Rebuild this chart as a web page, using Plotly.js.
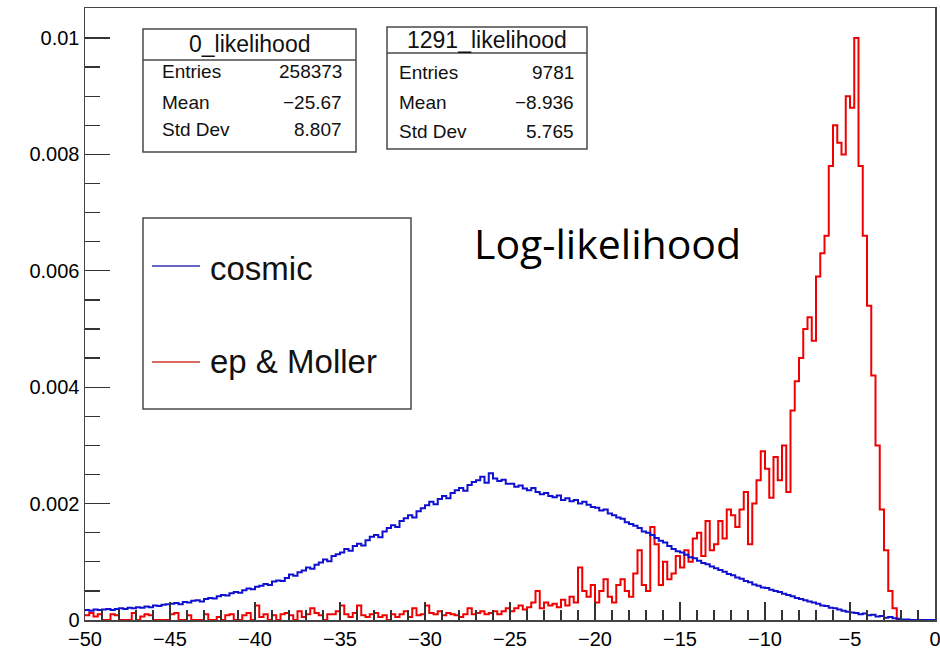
<!DOCTYPE html>
<html>
<head>
<meta charset="utf-8">
<script src="https://cdn.plot.ly/plotly-3.0.1.min.js"></script>
<style>html,body{margin:0;padding:0;background:#fff;}#chart{width:940px;height:649px;}</style>
</head>
<body>
<div id="chart"></div>
<script>
// ---- Data (histograms, bin width 0.25 from -50 to 0) ----
const binStart = -50;
const binWidth = 0.25;

const cosmicName = "cosmic";
const cosmicValues = [
0.00017,0.00016,0.00018,0.00017,0.00018,0.00019,0.00017,0.00019,0.00020,0.00019,0.00021,0.00020,0.00022,0.00021,0.00023,0.00022,0.00025,0.00024,0.00026,0.00027,
0.00028,0.00029,0.00027,0.00031,0.00030,0.00033,0.00034,0.00032,0.00036,0.00038,0.00037,0.00041,0.00043,0.00042,0.00046,0.00048,0.00047,0.00051,0.00054,0.00053,
0.00057,0.00059,0.00062,0.00060,0.00066,0.00068,0.00067,0.00072,0.00078,0.00076,0.00082,0.00085,0.00090,0.00088,0.00095,0.00099,0.00104,0.00101,0.00110,0.00113,
0.00116,0.00122,0.00119,0.00127,0.00131,0.00128,0.00137,0.00143,0.00146,0.00142,0.00152,0.00158,0.00163,0.00160,0.00170,0.00175,0.00180,0.00176,0.00187,0.00192,
0.00197,0.00203,0.00199,0.00208,0.00213,0.00209,0.00218,0.00223,0.00227,0.00222,0.00232,0.00237,0.00240,0.00246,0.00236,0.00252,0.00243,0.00239,0.00241,0.00234,
0.00234,0.00229,0.00231,0.00226,0.00223,0.00227,0.00220,0.00216,0.00218,0.00213,0.00211,0.00214,0.00206,0.00209,0.00204,0.00206,0.00200,0.00203,0.00198,0.00194,
0.00193,0.00188,0.00190,0.00183,0.00180,0.00176,0.00174,0.00168,0.00165,0.00162,0.00158,0.00152,0.00150,0.00146,0.00141,0.00136,0.00133,0.00127,0.00122,0.00118,
0.00116,0.00112,0.00108,0.00106,0.00102,0.00098,0.00096,0.00092,0.00089,0.00086,0.00083,0.00079,0.00077,0.00073,0.00071,0.00067,0.00065,0.00061,0.00059,0.00056,
0.00055,0.00052,0.00050,0.00048,0.00045,0.00043,0.00041,0.00038,0.00036,0.00034,0.00032,0.00030,0.00028,0.00025,0.00024,0.00021,0.00020,0.00018,0.00016,0.00014,
0.00013,0.00012,0.00010,0.00011,0.00008,0.00009,0.00006,0.00007,0.00004,0.00005,0.00003,0.00002,0.00001,0.00001,0,0,0,0,0,0
];

const mollerName = "ep & Moller";
const mollerValues = [
0.00008,0.00012,0.00006,0.00010,0,0,0.00010,0.00008,0,0,0,0.00012,0,0.00006,0.00010,0.00008,0,0,0,0,
0.00010,0.00012,0,0,0.00008,0,0,0,0.00010,0,0,0.00005,0,0.00008,0.00010,0,0,0.00008,0.00012,0,
0.00025,0.00005,0.00010,0,0.00008,0,0.00010,0.00012,0.00008,0,0.00015,0.00005,0.00010,0.00020,0.00012,0.00008,0,0.00010,0.00010,0.00015,
0.00025,0.00010,0.00005,0.00012,0.00025,0.00008,0.00005,0.00010,0.00012,0.00005,0.00008,0,0.00010,0.00005,0.00010,0.00015,0.00005,0.00020,0.00008,0.00010,
0.00025,0.00012,0.00010,0.00015,0.00008,0.00012,0.00010,0.00008,0.00005,0.00010,0.00020,0.00010,0.00012,0.00015,0.00010,0.00012,0.00015,0.00010,0.00015,0.00020,
0.00015,0.00020,0.00025,0.00018,0.00022,0.00030,0.00050,0.00020,0.00030,0.00025,0.00028,0.00022,0.00035,0.00025,0.00040,0.00030,0.00090,0.00050,0.00040,0.00060,
0.00030,0.00050,0.00070,0.00040,0.00030,0.00060,0.00070,0.00050,0.00040,0.00080,0.00120,0.00060,0.00050,0.00160,0.00130,0.00060,0.00100,0.00070,0.00080,0.00110,
0.00090,0.00120,0.00100,0.00140,0.00150,0.00110,0.00170,0.00120,0.00130,0.00170,0.00140,0.00190,0.00180,0.00160,0.00190,0.00220,0.00130,0.00200,0.00240,0.00290,
0.00260,0.00210,0.00280,0.00240,0.00300,0.00220,0.00360,0.00410,0.00450,0.00500,0.00520,0.00480,0.00590,0.00630,0.00660,0.00780,0.00850,0.00820,0.00800,0.00900,
0.00880,0.01000,0.00780,0.00660,0.00540,0.00420,0.00300,0.00190,0.00120,0.00050,0.00020,0,0,0,0,0,0,0,0,0
];

const xTickVals = [-50,-45,-40,-35,-30,-25,-20,-15,-10,-5,0];
const yTickVals = [0,0.002,0.004,0.006,0.008,0.01];
const yTickText = ["0","0.002","0.004","0.006","0.008","0.01"];

const stats1 = {title:"0_likelihood", labels:["Entries","Mean","Std Dev"], values:["258373","\u221225.67","8.807"]};
const stats2 = {title:"1291_likelihood", labels:["Entries","Mean","Std Dev"], values:["9781","\u22128.936","5.765"]};
const overlayText = "Log-likelihood";

// ---- Build step-histogram outlines from bin contents ----
function stepXY(values){
  const xs = [], ys = [];
  for (let i = 0; i < values.length; i++){ xs.push(binStart + i*binWidth); ys.push(values[i]); }
  xs.push(binStart + values.length*binWidth); ys.push(values[values.length-1]);
  return {xs, ys};
}
const blue = stepXY(cosmicValues);
const red = stepXY(mollerValues);

// ---- Geometry helpers (pixel -> paper) ----
const L = 85, R = 935, T = 8, B = 620;
const px = p => (p - L)/(R - L);
const py = p => (B - p)/(B - T);

const FONT = "Liberation Sans, Arial, Helvetica, sans-serif";
const shapes = [], annotations = [];

function statsBox(s, x0, y0, x1, y1, sepY, rows, padL, padR, titleY){
  shapes.push({type:"rect", xref:"paper", yref:"paper", x0:px(x0), x1:px(x1), y0:py(y1), y1:py(y0),
    line:{color:"#4a4a4a", width:1.5}, fillcolor:"#ffffff", layer:"above"});
  shapes.push({type:"line", xref:"paper", yref:"paper", x0:px(x0), x1:px(x1), y0:py(sepY), y1:py(sepY),
    line:{color:"#4a4a4a", width:1.5}, layer:"above"});
  annotations.push({xref:"paper", yref:"paper", x:px((x0+x1)/2), y:py(titleY), text:s.title, showarrow:false,
    xanchor:"center", yanchor:"middle", font:{family:FONT, size:23, color:"#111"}});
  for (let i = 0; i < s.labels.length; i++){
    annotations.push({xref:"paper", yref:"paper", x:px(x0+padL), y:py(rows[i]), text:s.labels[i], showarrow:false,
      xanchor:"left", yanchor:"middle", font:{family:FONT, size:19, color:"#111"}});
    annotations.push({xref:"paper", yref:"paper", x:px(x1-padR), y:py(rows[i]), text:s.values[i], showarrow:false,
      xanchor:"right", yanchor:"middle", font:{family:FONT, size:19, color:"#111"}});
  }
}
statsBox(stats1, 143, 29, 356, 152, 60, [72,102,130], 17, 12, 44);
statsBox(stats2, 387, 27, 587, 149, 53, [73,102,132], 10, 11, 40);

// legend (manual, ROOT TLegend style)
shapes.push({type:"rect", xref:"paper", yref:"paper", x0:px(143), x1:px(411), y0:py(409), y1:py(218),
  line:{color:"#4a4a4a", width:1.5}, fillcolor:"#ffffff", layer:"above"});
shapes.push({type:"line", xref:"paper", yref:"paper", x0:px(152), x1:px(200), y0:py(266), y1:py(266),
  line:{color:"#3030b0", width:1.5}, layer:"above"});
shapes.push({type:"line", xref:"paper", yref:"paper", x0:px(152), x1:px(200), y0:py(362), y1:py(362),
  line:{color:"#d03a2a", width:1.5}, layer:"above"});
annotations.push({xref:"paper", yref:"paper", x:px(208), y:py(268), text:cosmicName, showarrow:false,
  xanchor:"left", yanchor:"middle", font:{family:FONT, size:33, color:"#111"}});
annotations.push({xref:"paper", yref:"paper", x:px(208), y:py(362), text:mollerName.replace("&","&amp;"), showarrow:false,
  xanchor:"left", yanchor:"middle", font:{family:FONT, size:33, color:"#111"}});

annotations.push({xref:"paper", yref:"paper", x:px(472), y:py(243), text:overlayText, showarrow:false,
  xanchor:"left", yanchor:"middle", font:{family:"Open Sans, sans-serif", size:41, color:"#000"}});

const traces = [
  {type:"scatter", mode:"lines", name:mollerName, x:red.xs, y:red.ys,
   line:{shape:"hv", color:"#f00000", width:2}, showlegend:false, hoverinfo:"skip"},
  {type:"scatter", mode:"lines", name:cosmicName, x:blue.xs, y:blue.ys,
   line:{shape:"hv", color:"#1010d0", width:2}, showlegend:false, hoverinfo:"skip"}
];

const layout = {
  width:940, height:649,
  margin:{l:L, r:940-R, t:T, b:649-B},
  paper_bgcolor:"#ffffff", plot_bgcolor:"#ffffff",
  showlegend:false,
  xaxis:{range:[-50,0], tickmode:"array", tickvals:xTickVals, ticks:"inside", ticklen:18, tickwidth:1.3, tickcolor:"#333",
    minor:{dtick:1, tick0:-50, ticks:"inside", ticklen:10, tickwidth:1.3, tickcolor:"#333"},
    showline:true, linecolor:"#444", linewidth:1.5, mirror:true, showgrid:false, zeroline:false,
    ticklabeloverflow:"allow",
    tickfont:{family:FONT, size:20, color:"#000"}},
  yaxis:{range:[0,0.010515], tickmode:"array", tickvals:yTickVals, ticktext:yTickText, ticks:"inside", ticklen:25, tickwidth:1.3, tickcolor:"#333",
    minor:{dtick:0.0005, tick0:0, ticks:"inside", ticklen:15, tickwidth:1.3, tickcolor:"#333"},
    showline:true, linecolor:"#444", linewidth:1.5, mirror:true, showgrid:false, zeroline:false,
    tickfont:{family:FONT, size:20, color:"#000"}},
  shapes:shapes,
  annotations:annotations
};

Plotly.newPlot("chart", traces, layout, {displayModeBar:false, staticPlot:true});
</script>
</body>
</html>
